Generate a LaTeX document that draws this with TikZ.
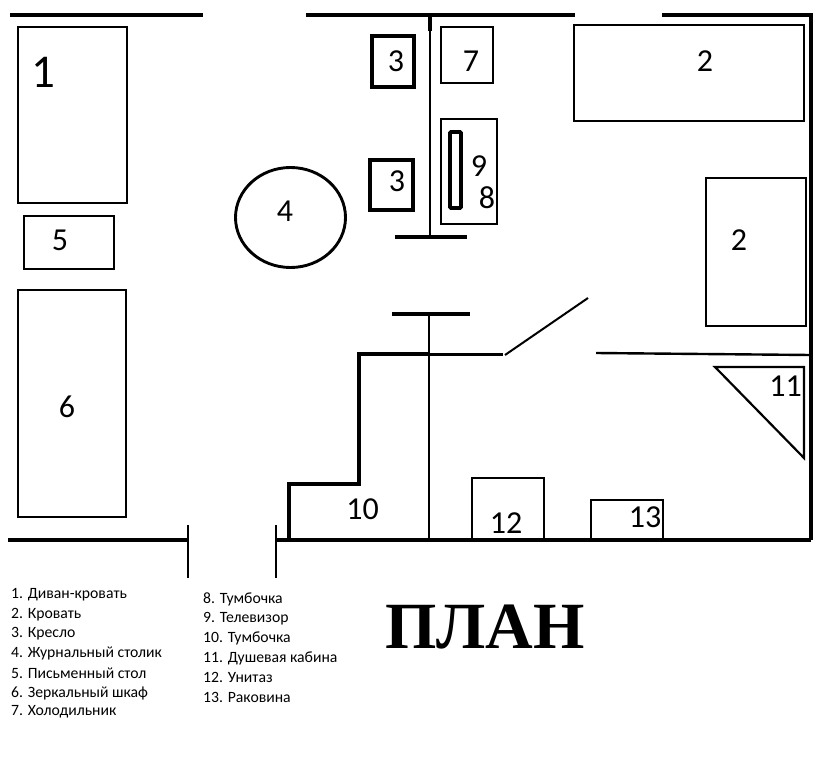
\documentclass[tikz,border=0pt]{standalone}
\usepackage{fontspec}
\setmainfont{Carlito}
\newfontfamily\titlefont{Liberation Serif}
\tikzset{
 box/.style={draw=black,line width=1.9pt},
 heavybox/.style={draw=black,line width=3.8pt},
 wall/.style={draw=black,line width=4.4pt},
 partition/.style={draw=black,line width=2pt},
 num/.style={font=\fontsize{32}{32}\selectfont,inner sep=0pt},
 leg/.style={font=\fontsize{15.7}{16}\selectfont,anchor=west,inner sep=0pt}
}
\begin{document}
\begin{tikzpicture}[x=1pt,y=-1pt]
\useasboundingbox (0,0) rectangle (829,768);
% walls
\draw[wall] (10,15) -- (203,15);
\draw[wall] (306,15) -- (575,15);
\draw[wall] (662,15) -- (811,15) -- (811,540);
\draw[wall,line width=3.4pt] (8,540) -- (189,540);
\draw[wall,line width=3.6pt] (276,540) -- (811,540);
\draw[partition] (188,525) -- (188,578);
\draw[partition] (276,525) -- (276,578);
% furniture
\draw[box] (18,27) rectangle (127,203);
\draw[box] (24,216) rectangle (114,269);
\draw[box] (18,290) rectangle (126,517);
\draw[heavybox] (372,36) rectangle (414,87);
\draw[heavybox] (370,160) rectangle (413,210);
\draw[box] (441,27) rectangle (493,83);
\draw[box] (441,119) rectangle (497,224);
\draw[heavybox,rounded corners=1pt] (450,132) rectangle (461,208);
\draw[box] (574,25) rectangle (804,121);
\draw[box] (706,178) rectangle (806,326);
\draw[line width=2.9pt] (290.5,217.5) ellipse (55 and 50);
% partitions
\draw[partition] (430,15) -- (430,237);
\draw[heavybox] (430,15) -- (430,31);
\draw[heavybox,line width=3.4pt] (395,237) -- (467,237);
\draw[heavybox,line width=3.4pt] (392,314) -- (470,314);
\draw[partition] (429,314) -- (429,540);
\draw[heavybox,line width=3.4pt] (429,354) -- (359,354) -- (359,484) -- (289,484) -- (289,540);
\draw[partition,line width=3pt] (429,354) -- (503,354);
\draw[partition] (505,355) -- (588,298);
\draw[partition,line width=2.4pt] (596,353) -- (811,355);
% bathroom
\draw[box,line width=2.2pt] (715,367) -- (804,367) -- (804,458) -- cycle;
\draw[box] (472,540) -- (472,478) -- (544,478) -- (544,540);
\draw[box] (591,540) -- (591,500) -- (663,500) -- (663,540);
% numbers
\node[num,font=\fontsize{47}{47}\selectfont] at (43,72) {1};
\node[num] at (705,61) {2};
\node[num] at (739,240) {2};
\node[num] at (396,61) {3};
\node[num] at (397,181) {3};
\node[num] at (285,211) {4};
\node[num] at (60,240) {5};
\node[num] at (67,407) {6};
\node[num] at (471,61) {7};
\node[num] at (487,198) {8};
\node[num] at (479,166) {9};
\node[num] at (362.5,509) {10};
\node[num] at (785.5,386) {11};
\node[num] at (506,523) {12};
\node[num] at (645,517) {13};
% legend
\node[leg] at (11,594.5) {1. Диван-кровать};
\node[leg] at (11,614.5) {2. Кровать};
\node[leg] at (11,634) {3. Кресло};
\node[leg] at (11,653.5) {4. Журнальный столик};
\node[leg] at (11,673) {5. Письменный стол};
\node[leg] at (11,693) {6. Зеркальный шкаф};
\node[leg] at (11,712) {7. Холодильник};
\node[leg] at (203,599.5) {8. Тумбочка};
\node[leg] at (203,619) {9. Телевизор};
\node[leg] at (203,638) {10. Тумбочка};
\node[leg] at (203,658) {11. Душевая кабина};
\node[leg] at (203,677) {12. Унитаз};
\node[leg] at (203,697) {13. Раковина};
\node[inner sep=0pt,font=\titlefont\bfseries\fontsize{66}{66}\selectfont] at (485,627) {ПЛАН};
\end{tikzpicture}
\end{document}
